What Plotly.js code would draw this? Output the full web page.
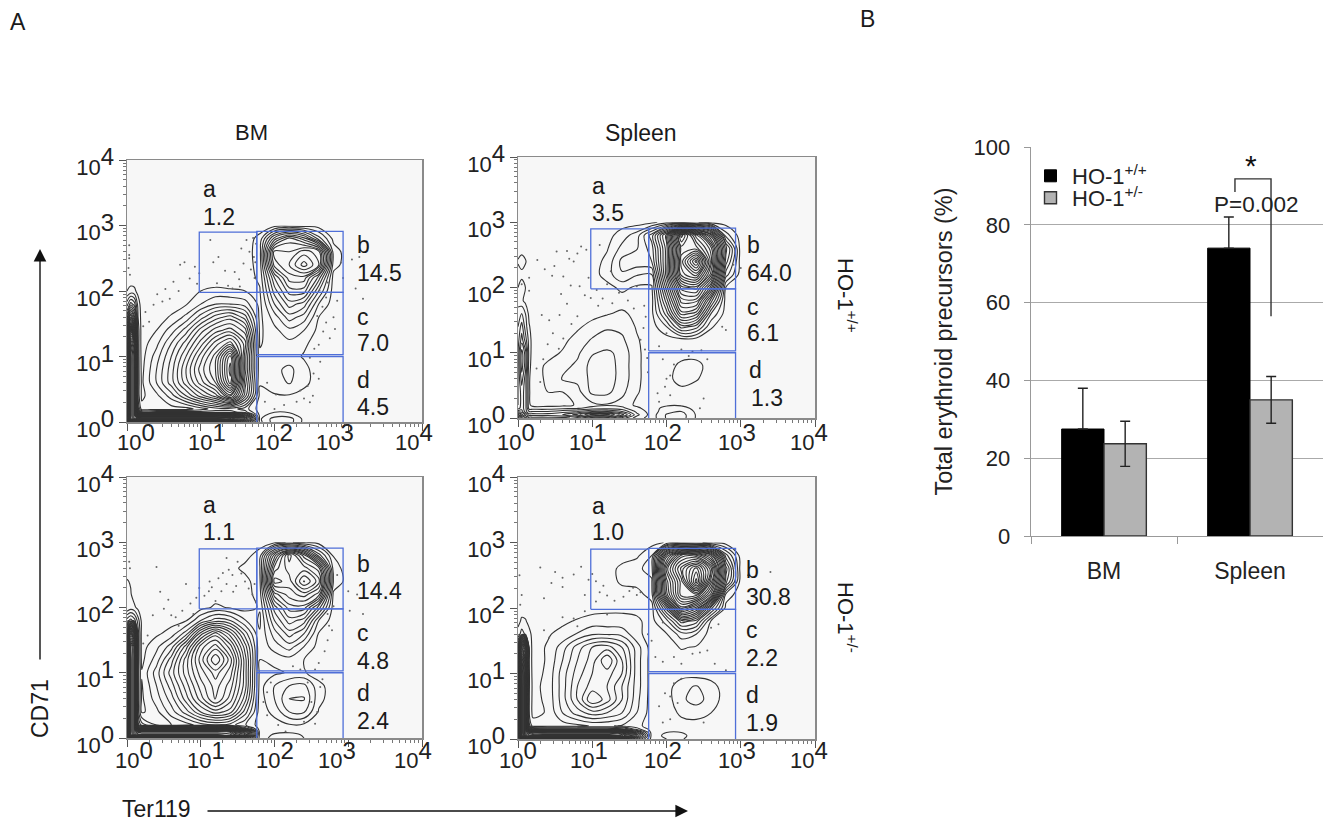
<!DOCTYPE html>
<html><head><meta charset="utf-8">
<script src="https://cdn.plot.ly/plotly-3.0.1.min.js"></script>
<style>html,body{margin:0;padding:0;background:#fff}</style></head>
<body><div id="chart" style="width:1324px;height:822px"></div>
<script>
// decades of the contour grid
const gridX = [0,.05,.1,.15,.2,.4,.6,.8,1,1.2,1.4,1.6,1.8,2,2.2,2.4,2.6,2.8,3,3.2];
const gridY = [3,2.8,2.6,2.4,2.2,2,1.8,1.6,1.4,1.2,1,.8,.6,.4,.2,.15,.1,.05,0];

const densityBMwt = [
[0,0,0,0,0,0,0,0,0,0,0,0,0,0,0,0,0,0,0,0],
[0,0,0,0,0,0,0,0,0,0,0,0,.8,6,9,7,3,.2,0,0],
[0,0,0,0,0,0,0,0,0,0,0,0,1,11,10.5,12,11,1,0,0],
[0,0,0,0,0,0,0,0,0,0,0,0,.9,10,11.5,14,11.5,.9,0,0],
[0,0,0,0,0,0,0,0,0,0,0,0,.7,6.5,10,10,6,.1,0,0],
[.5,.8,.7,.2,0,0,0,.1,.5,.7,.6,.5,.4,5,8,8,3.5,0,0,0],
[3,5,4,1,0,0,.1,.4,1.5,2.5,2.5,2,.2,3.5,6,5,1.5,0,0,0],
[6,12,8,1.5,0,.1,.6,1.8,4,6,7,5,.2,2,4,3,.5,0,0,0],
[10,22,14,2,0,.5,2,4,7,9,10,8,.3,1.2,2.2,1.5,.2,0,0,0],
[12,28,24,2,0,1.2,3.5,6,9,12,14,10,.4,1,1.2,.7,0,0,0,0],
[14,30,26,2,.1,2,4.5,7.5,11,14,20,9,.7,1,.9,.4,0,0,0,0],
[14,30,26,2,.2,2.5,5,8.5,12,14.5,21,9,.7,1.2,1.8,.8,0,0,0,0],
[14,30,26,2,.3,2.5,5,8,11,13.5,20,8,.6,1,1.6,.8,0,0,0,0],
[14,30,26,2,.3,1.2,3,5.5,8,10,14,7,.2,.4,.4,.1,0,0,0,0],
[14,30,26,4,.8,1,1,1,2,3,3,2,0,.3,.1,0,0,0,0,0],
[14,30,26,8,4,4,4,4,4,4,4,3,.1,.5,.4,0,0,0,0,0],
[14,30,26,18,18,18,18,18,18,18,18,8,.2,1,1,0,0,0,0,0],
[14,30,26,26,26,26,26,26,26,26,26,12,.3,2,2,.2,0,0,0,0],
[6,14,14,14,14,14,14,14,14,14,14,8,.2,2,2,.2,0,0,0,0]
];
const densitySpleenWt = [
[0,0,0,0,0,0,0,0,0,0,0,0,.2,1,1,.6,0,0,0,0],
[0,0,0,0,0,0,0,0,0,.1,1,2,5,11,24,18,12,2,0,0],
[0,0,0,0,0,0,0,0,0,.4,1.8,2.4,4,10,21,21,17,6,0,0],
[.6,1,.6,0,0,0,0,0,0,.8,2.8,3.2,3.5,10,22,28,18,5,0,0],
[.1,.2,.1,0,0,0,0,0,0,1,2.4,1.6,1.5,10,21,23,16,3,0,0],
[.5,1,.5,0,0,0,0,0,0,.1,.8,.3,.3,8,16,17,11,.4,0,0],
[1,.7,.2,0,0,0,0,0,0,0,0,0,.1,6,13,13,6,0,0,0],
[2,2.5,1.5,.2,0,0,0,0,.1,.4,.7,.2,.2,4,10,9,2.5,0,0,0],
[2.5,4,2,.6,0,0,0,.3,.9,1.4,1.2,.4,0,1.5,5,4,.6,0,0,0],
[3,5,3,1,0,0,.2,.9,1.6,1.8,1.7,.6,0,0,.1,0,0,0,0,0],
[3.5,7,5,1,0,.1,.6,1.3,2.4,2.7,2.2,.7,0,0,0,0,0,0,0,0],
[3.5,7,5,.8,0,.7,1.2,1.7,2.9,2.9,2.2,.7,0,0,.8,.9,0,0,0,0],
[3.5,6,4,.6,0,.7,1.6,1.8,2.8,2.9,2.2,.7,0,.2,.9,.6,0,0,0,0],
[3.5,5,4,.6,0,.5,.5,1.1,2.8,2.8,1.8,.6,0,0,.2,0,0,0,0,0],
[3.5,5,4,.7,.1,.1,.2,.6,1.2,1.4,1.1,.3,0,.3,.3,0,0,0,0,0],
[4,5,4,1,1,1,1.2,1.4,1.8,2,1.8,.7,0,.9,1,.1,0,0,0,0],
[6,6,4,2.5,2.5,2.5,3,3.5,4.5,4.5,3.5,1.2,0,1.1,1.5,.3,0,0,0,0],
[10,8,6,4,4,4,4.5,6,9,9,6,1.8,0,1.6,2,.4,0,0,0,0],
[6,5,4,2,2,2,2,3,5,5,3,1,0,1.6,2,.4,0,0,0,0]
];
const densityBMhet = [
[0,0,0,0,0,0,0,0,0,0,0,0,0,.2,.6,.2,0,0,0,0],
[0,0,0,0,0,0,0,0,0,0,0,.1,1,8,14,10,4,.4,0,0],
[0,0,0,0,0,0,0,0,0,0,.1,.8,1.4,11,13,13,11,1,0,0],
[.6,.4,0,0,0,0,0,0,0,0,0,.1,1.2,13,12,15.6,13,1.4,0,0],
[1,.6,0,0,0,0,0,0,0,0,0,0,1,9,11,12,10,.2,0,0],
[.5,.9,.7,.2,0,0,0,0,.1,.7,.4,.1,.6,6,9,9,5,0,0,0],
[4,5,4,2,.2,0,.1,.4,2.5,4,3.5,1.6,.3,4.5,7,6,1.5,0,0,0],
[14,24,20,3,.1,.3,.9,3,8,11,8,4,.6,3,5,3.5,.4,0,0,0],
[16,32,28,3,.1,1.2,3,7,12,14,11,6,.7,2,3,1.5,.1,0,0,0],
[16,32,28,3,.2,2,5,9,13,16.5,13,7,.5,.8,1.1,.5,0,0,0,0],
[16,32,28,3,.6,3,6,9,12,14,12,7,.2,.3,.6,.6,0,0,0,0],
[16,32,28,3,.4,2.5,5,8,11,13,11,7,.1,1.5,2.5,2.8,.8,0,0,0],
[16,32,28,3,.3,2,4,7,10,12.7,10,6,0,1.5,3.5,3.6,.8,0,0,0],
[16,32,28,3,.3,1.2,3,5,7.5,9,8,4,0,.8,2.5,2.6,.4,0,0,0],
[16,32,28,5,3,1.5,1.5,2,3,3.5,3,1.6,0,.1,.4,.3,0,0,0,0],
[16,32,28,12,10,10,10,10,10,10,10,4,0,.1,.2,.2,0,0,0,0],
[16,32,28,24,24,24,24,24,24,24,24,12,.1,.3,.3,.2,0,0,0,0],
[16,32,28,26,26,26,26,26,26,26,26,14,.1,.6,.8,.4,0,0,0,0],
[10,14,14,14,14,14,14,14,14,14,14,8,.1,.8,.9,.5,0,0,0,0]
];
const densitySpleenHet = [
[0,0,0,0,0,0,0,0,0,0,0,0,.1,.6,1.2,.8,.1,0,0,0],
[0,0,0,0,0,0,0,0,0,0,0,.3,1.5,12,18,18,14,4,0,0],
[0,0,0,0,0,0,0,0,0,0,.8,1.2,2,16,22,26,20,7,0,0],
[0,0,0,0,0,0,0,0,0,0,.7,.9,1.3,14,20,28,18,6,0,0],
[0,0,0,0,0,0,0,0,0,0,0,0,1,13,20,20,14,1,0,0],
[0,0,0,0,0,0,0,0,.1,.3,.3,.2,0,6,15,12,5,.2,0,0],
[.1,.7,.6,.2,.1,.2,.3,.6,.9,.8,.8,.7,.1,2,6,5,.4,0,0,0],
[1,2,1.4,.8,.2,.4,.8,1.6,2.4,2.4,2.2,.8,0,.4,2,1.5,0,0,0,0],
[8,22,18,1.4,.1,.6,2,4,5.5,6,4.5,2,0,0,.6,.4,0,0,0,0],
[10,28,22,1.4,.1,.6,2.5,4.5,6,8.5,5.5,2,0,0,0,0,0,0,0,0],
[12,30,24,1.6,.1,.7,3,5,6.5,7,5.5,2,0,0,0,0,0,0,0,0],
[12,30,24,1.6,.2,.8,3,5.5,7,6.5,4.5,2,0,0,1.2,1.6,.9,0,0,0],
[12,30,24,1.4,.2,.7,3,5.5,8.5,7,4.5,1.8,0,0,1.3,1.9,1.1,0,0,0],
[12,30,24,1.4,.2,.6,2.5,4,5,4.5,3.5,1.5,0,0,.7,.9,.5,0,0,0],
[12,30,24,3,1,1,1,1.2,1.6,1.6,1.4,.8,0,0,.1,.1,0,0,0,0],
[12,30,24,8,6,5,5,5,5,5,5,2,0,.2,.2,0,0,0,0,0],
[12,30,24,20,18,18,18,18,18,18,18,6,.1,.5,.5,0,0,0,0,0],
[12,30,24,22,22,22,22,22,22,22,22,9,.1,.7,.8,0,0,0,0,0],
[8,12,12,10,10,10,10,10,10,10,10,5,.1,.5,.6,0,0,0,0,0]
];

// scattered events outside the contours, [Ter119 decades, CD71 decades]
const dotsBMwt = [[1.13,2.78],[1.24,2.52],[1.17,2.44],[1.33,2.31],[1.46,2.29],[1.52,2.18],[1.22,2.12],[1.37,2.08],[1.43,2.04],[1.55,2.65],[1.62,2.78],[1.71,2.81],[1.66,2.6],[1.72,2.52],[1.75,2.72],[1.74,2.44],[1.58,2.42],[1.68,2.33],[1.73,2.2],[1.53,2.07],[.78,2.44],[.72,2.4],[.92,2.37],[.98,2.27],[.85,2.19],[.95,2.11],[.63,2.14],[.7,2.0],[.52,2.03],[.41,1.95],[.48,1.84],[.36,1.79],[.25,1.68],[.3,1.53],[.22,1.46],[.58,1.88],[.03,2.7],[.03,2.55],[.02,2.35],[.04,2.25],[.03,2.5],[3.05,2.48],[2.9,2.43],[2.93,2.2],[3.15,2.52],[3.1,2.04],[3.2,1.88],[2.85,1.85],[2.8,1.6],[2.7,1.52],[2.66,1.38],[2.75,1.28],[2.6,1.18],[2.54,1.12],[2.48,.98],[2.62,.92],[2.53,.74],[2.6,.66],[2.45,.55],[2.52,.4],[2.4,.36],[2.3,.31],[2.13,.26],[2.02,.42],[1.87,.31],[1.9,.6],[2.0,.2],[2.61,2.01],[2.72,2.13],[2.65,1.76],[2.48,.3],[2.35,.48],[2.58,1.62],[2.82,1.42],[2.7,1.9]];
const dotsSpleenWt = [[.26,2.42],[.36,2.28],[.52,2.55],[.66,2.56],[.69,2.44],[.75,2.4],[.8,2.52],[.85,2.63],[.92,2.58],[.49,2.33],[.46,2.18],[.61,2.17],[.71,2.03],[.83,2.02],[.9,1.88],[.98,1.84],[1.06,1.96],[1.14,1.83],[1.27,1.76],[1.36,1.92],[1.48,1.8],[1.56,1.68],[1.7,1.72],[1.72,1.55],[1.69,1.38],[1.65,1.2],[1.71,1.05],[1.74,.92],[1.75,.7],[.32,1.58],[.42,1.5],[.47,1.3],[.4,1.13],[.55,1.06],[.61,1.22],[.34,.9],[.25,.76],[.3,.55],[.56,1.58],[.72,1.44],[.8,1.56],[1.08,1.72],[.66,1.75],[.58,1.9],[.95,2.15],[.15,2.15],[.15,1.95],[.05,2.05],[1.1,2.65],[1.25,2.25],[1.2,2.05],[1.6,2.02],[2.2,1.05],[2.35,1.02],[2.47,1.04],[2.1,.82],[2.05,.65],[1.98,.48],[1.88,.38],[2.05,.35],[1.9,.25],[2.3,.95],[2.5,.3],[2.45,.15],[2.0,.6],[1.95,.9],[2.55,.9],[2.0,1.3],[1.9,1.1],[2.75,1.4],[2.8,1.35],[2.9,2.35],[3.0,2.3]];
const dotsBMhet = [[1.12,2.4],[1.15,2.31],[1.2,2.1],[1.28,2.25],[1.35,2.36],[1.44,2.24],[1.5,2.7],[1.35,2.76],[1.38,2.58],[1.43,2.5],[1.55,2.52],[1.6,2.4],[1.65,2.29],[1.7,2.2],[1.73,2.36],[1.75,2.1],[1.48,2.33],[1.24,2.45],[1.3,2.53],[1.11,2.25],[1.05,2.18],[.94,2.15],[.98,2.3],[.8,2.36],[.4,2.62],[.45,2.24],[.56,2.12],[.5,1.98],[.6,1.88],[.66,1.85],[.7,1.72],[.75,1.95],[.86,2.06],[.9,1.9],[.28,1.57],[.22,1.45],[.35,1.88],[.03,2.7],[.04,2.6],[2.85,2.5],[3.0,2.25],[3.12,2.2],[3.2,1.9],[2.78,1.65],[2.72,1.5],[2.68,1.33],[2.6,1.15],[2.55,1.05],[2.65,.9],[2.45,.85],[2.62,.78],[2.5,.55],[2.58,.4],[1.95,.85],[1.9,.7],[1.85,.55],[1.9,.35],[2.05,.2],[2.15,.1],[2.4,.25],[2.55,.22],[2.72,1.9],[2.8,2.02],[3.02,1.95],[3.4,2.2],[2.25,1.1],[2.35,1.05],[2.74,1.72]];
const dotsSpleenHet = [[.3,2.62],[.5,2.55],[.45,2.38],[.6,2.46],[.75,2.51],[.85,2.63],[.95,2.43],[1.0,2.52],[1.05,2.41],[1.15,2.34],[1.1,2.24],[1.2,2.19],[1.3,2.11],[1.42,2.17],[1.5,2.26],[1.55,2.31],[1.6,2.2],[1.65,2.24],[1.05,2.1],[.9,2.2],[.6,2.32],[.35,2.15],[.6,1.86],[.75,1.84],[.8,1.72],[.35,1.66],[.42,1.55],[.9,1.95],[1.2,1.9],[1.75,1.6],[1.8,1.5],[1.85,1.25],[1.95,1.18],[2.1,1.25],[2.2,1.15],[2.35,1.3],[2.45,1.32],[2.55,1.35],[2.65,1.15],[2.8,1.05],[2.6,1.7],[2.7,1.75],[1.95,1.78],[2.05,.65],[1.98,.7],[2.1,.85],[2.2,.92],[2.15,.55],[1.9,.5],[1.95,.25],[2.05,.3],[2.5,.25],[3.1,2.5],[3.4,2.55],[2.9,2.6],[.02,2.5],[.05,2.2],[.03,2.05]];

// gates, decades
const gateA = [[.98,1.98],[1.76,1.98],[1.76,2.9],[.98,2.9],[.98,1.98]];
const gateB = [[1.76,1.98],[2.93,1.98],[2.93,2.91],[1.76,2.91],[1.76,1.98]];
const gateC = [[1.76,1.03],[2.93,1.03],[2.93,1.98],[1.76,1.98],[1.76,1.03]];
const gateD = [[1.76,0],[1.76,1],[2.93,1],[2.93,0]];

const decadeTicks = [1,10,100,1000,10000];
const decadeLabels = ['0','1','2','3','4'];
const minorTicks = [2,3,4,5,6,7,8,9,20,30,40,50,60,70,80,90,200,300,400,500,600,700,800,900,2000,3000,4000,5000,6000,7000,8000,9000];

// gate percentages [a,b,c,d]
const gatePercentBMwt = ['1.2','14.5','7.0','4.5'];
const gatePercentSpleenWt = ['3.5','64.0','6.1','1.3'];
const gatePercentBMhet = ['1.1','14.4','4.8','2.4'];
const gatePercentSpleenHet = ['1.0','30.8','2.2','1.9'];

// bar chart
const barCategories = ['BM','Spleen'];
const wtValues = [27.5,74];
const hetValues = [23.7,35];
const wtErrors = [10.5,8];
const hetErrors = [5.8,6];
const noError = [0,0];
const barTicks = [0,20,40,60,80,100];

const W=1324,H=822;
const fx=p=>p/W, fy=p=>1-p/H;
const panels=[
 {id:'',  box:[127,422,160,422], z:densityBMwt, dots:dotsBMwt, pct:gatePercentBMwt, lx:[136,207,274,335,414], ly:437,
  pos:[[201,189],[201,217],[355,245],[355,273],[355,317],[355,343],[355,380],[355,407]]},
 {id:'2', box:[518,815,157,418], z:densitySpleenWt, dots:dotsSpleenWt, pct:gatePercentSpleenWt, lx:[516,588,663,737,809], ly:437,
  pos:[[590,186],[590,213],[745,245],[745,273],[745,307],[745,333],[747,370],[749,398]]},
 {id:'3', box:[127,422,477,738], z:densityBMhet, dots:dotsBMhet, pct:gatePercentBMhet, lx:[134,206,275,337,413], ly:755,
  pos:[[201,505],[201,532],[355,564],[355,591],[355,633],[355,661],[355,693],[355,721]]},
 {id:'4', box:[518,815,477,739], z:densitySpleenHet, dots:dotsSpleenHet, pct:gatePercentSpleenHet, lx:[518,589,663,737,809], ly:755,
  pos:[[590,506],[590,532],[744,570],[744,597],[744,630],[744,658],[744,695],[744,723]]}
];
const gateLetters=['a','b','c','d'];
const pw=e=>Math.pow(10,e);
const legendBase={xanchor:'left',yanchor:'middle',bgcolor:'rgba(0,0,0,0)',font:{size:22,color:'#222'},itemwidth:33,borderwidth:0};
const traces=[],layout={width:W,height:H,margin:{l:0,r:0,t:0,b:0},paper_bgcolor:'#fff',plot_bgcolor:'#fff',
 font:{family:'Liberation Sans, Arial, sans-serif',color:'#1a1a1a',size:22},showlegend:true,
 legend:Object.assign({},legendBase,{x:fx(1029),y:fy(176)}),
 legend2:Object.assign({},legendBase,{x:fx(1029),y:fy(198)}),
 annotations:[],shapes:[]};
const ann=(text,x,y,o)=>layout.annotations.push(Object.assign({text,xref:'paper',yref:'paper',x:fx(x),y:fy(y),xanchor:'left',yanchor:'middle',showarrow:false,font:{size:23,color:'#1a1a1a'}},o||{}));

const tickText=decadeLabels.map(d=>'10<sup><span style="font-size:24px">'+d+'</span></sup>');
panels.forEach(p=>{
 const xa='x'+p.id,ya='y'+p.id;
 const common={type:'log',range:[0,4],fixedrange:true,showgrid:false,zeroline:false,showline:true,mirror:true,linecolor:'#8a8a8a',linewidth:1.5,
  ticks:'outside',ticklen:7,tickcolor:'#555',tickwidth:1,tickmode:'array',tickvals:decadeTicks,ticktext:tickText,tickfont:{size:22,color:'#222'},
  minor:{tickmode:'array',tickvals:minorTicks,ticks:'outside',ticklen:3,tickcolor:'#777',tickwidth:1,showgrid:false}};
 layout['xaxis'+p.id]=Object.assign({},common,{domain:[fx(p.box[0]),fx(p.box[1])],anchor:ya,showticklabels:false});
 layout['yaxis'+p.id]=Object.assign({},common,{domain:[fy(p.box[3]),fy(p.box[2])],anchor:xa,ticklabelshift:7});
 layout.shapes.push({type:'rect',xref:'paper',yref:'paper',x0:fx(p.box[0]),x1:fx(p.box[1]),y0:fy(p.box[3]),y1:fy(p.box[2]),fillcolor:'#f7f7f7',line:{width:0},layer:'below'});
 traces.push({type:'scatter',mode:'markers',xaxis:xa,yaxis:ya,showlegend:false,hoverinfo:'skip',
  x:p.dots.map(d=>pw(d[0])),y:p.dots.map(d=>pw(d[1])),marker:{size:2,color:'#666'}});
 traces.push({type:'contour',xaxis:xa,yaxis:ya,showlegend:false,showscale:false,hoverinfo:'skip',
  x:gridX.map(pw),y:gridY.slice().reverse().map(pw),z:p.z.slice().reverse(),
  contours:{coloring:'none',start:.5,end:40,size:1},line:{color:'#333',width:1.1,smoothing:1}});
 [gateA,gateB,gateC,gateD].forEach(g=>traces.push({type:'scatter',mode:'lines',xaxis:xa,yaxis:ya,showlegend:false,hoverinfo:'skip',
  x:g.map(d=>pw(d[0])),y:g.map(d=>pw(d[1])),line:{color:'#4f6fd8',width:1.3}}));
 gateLetters.forEach((l,i)=>{
  ann(l,p.pos[2*i][0],p.pos[2*i][1]);
  ann(p.pct[i],p.pos[2*i+1][0],p.pos[2*i+1][1]);
 });
 tickText.forEach((t,i)=>ann(t,p.lx[i],p.ly,{xanchor:'center',font:{size:22,color:'#222'}}));
});

// bar panel
traces.push({type:'bar',xaxis:'x5',yaxis:'y5',name:'HO-1<sup>+/+</sup>',legend:'legend',x:barCategories,y:wtValues,hoverinfo:'skip',
 marker:{color:'#000',line:{color:'#000',width:1}},error_y:{type:'data',array:wtErrors,arrayminus:noError,symmetric:false,color:'#222',thickness:1.4,width:5}});
traces.push({type:'bar',xaxis:'x5',yaxis:'y5',name:'HO-1<sup>+/-</sup>',legend:'legend2',x:barCategories,y:hetValues,hoverinfo:'skip',
 marker:{color:'#b3b3b3',line:{color:'#333',width:1.4}},error_y:{type:'data',array:hetErrors,symmetric:true,color:'#222',thickness:1.4,width:5}});
layout.barmode='group';layout.bargap=.42;layout.bargroupgap=0;
layout.xaxis5={domain:[fx(1031),fx(1323)],anchor:'y5',type:'category',tickson:'boundaries',ticks:'outside',ticklen:7,tickcolor:'#999',showline:true,linecolor:'#999',linewidth:1.3,tickfont:{size:23,color:'#222'},fixedrange:true,ticklabelstandoff:14};
layout.yaxis5={domain:[fy(536),fy(147)],anchor:'x5',range:[0,100],tickmode:'array',tickvals:barTicks,ticks:'outside',ticklen:6,tickcolor:'#999',showline:true,linecolor:'#999',linewidth:1.3,showgrid:true,gridcolor:'#aaa',gridwidth:1.2,zeroline:false,tickfont:{size:22,color:'#222'},fixedrange:true,ticklabelstandoff:9,
 title:{text:'Total erythroid precursors (%)',font:{size:23.5,color:'#222'},standoff:14}};
// significance bracket in bar axis units
layout.shapes.push({type:'path',xref:'x5',yref:'y5',path:'M 0.897 88.4 L 0.897 91.8 L 1.144 91.8 L 1.144 56.5',line:{color:'#333',width:1.4}});
ann('P=0.002',1256,205,{xanchor:'center',font:{size:22.5,color:'#222'}});
ann('*',1251,166,{xanchor:'center',font:{size:30,color:'#111'}});

// figure text
ann('A',8,22);
ann('B',858,19);
ann('BM',251,133,{xanchor:'center',font:{size:22}});
ann('Spleen',641,133,{xanchor:'center'});
ann('HO-1<sup>+/+</sup>',847,295,{xanchor:'center',textangle:90,font:{size:22}});
ann('HO-1<sup>+/-</sup>',847,617,{xanchor:'center',textangle:90,font:{size:22}});
ann('CD71',40,709,{xanchor:'center',textangle:-90});
ann('Ter119',120,809);
// arrows
layout.annotations.push({text:'',xref:'paper',yref:'paper',axref:'pixel',ayref:'pixel',x:fx(688),y:fy(811),ax:-482,ay:0,showarrow:true,arrowhead:2,arrowsize:1.8,arrowwidth:1.4,arrowcolor:'#111'});
layout.annotations.push({text:'',xref:'paper',yref:'paper',axref:'pixel',ayref:'pixel',x:fx(40),y:fy(249),ax:0,ay:412,showarrow:true,arrowhead:2,arrowsize:1.8,arrowwidth:1.4,arrowcolor:'#111'});

Plotly.newPlot('chart',traces,layout,{staticPlot:true,displayModeBar:false});
</script></body></html>
